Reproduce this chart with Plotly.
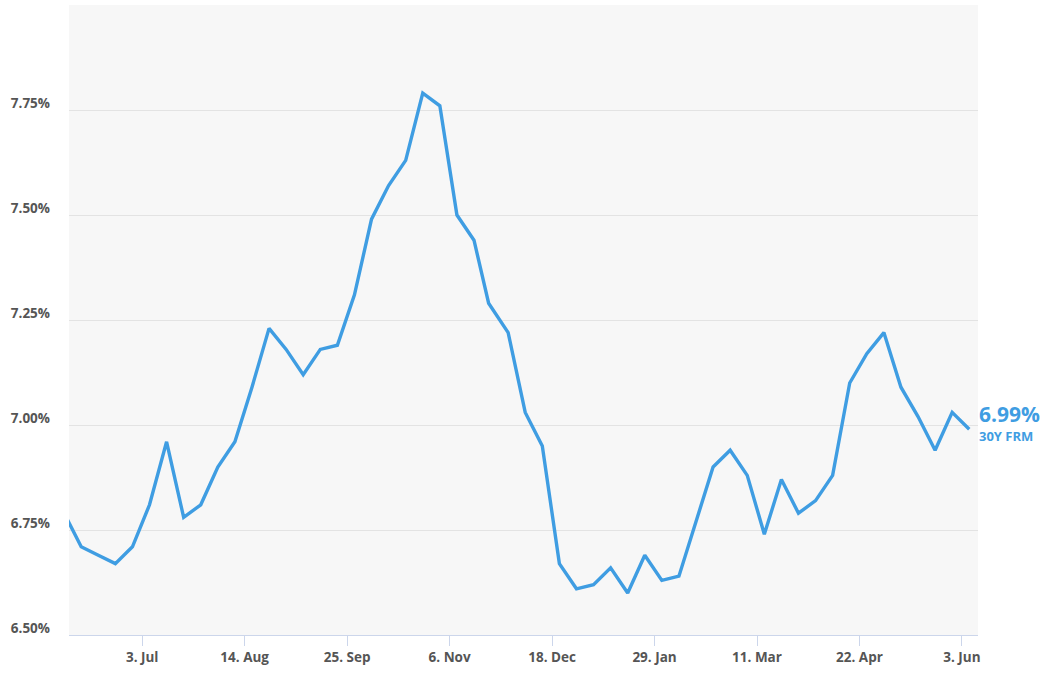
import plotly.graph_objects as go

dates = [
    "2023-06-01", "2023-06-08", "2023-06-15", "2023-06-22", "2023-06-29",
    "2023-07-06", "2023-07-13", "2023-07-20", "2023-07-27", "2023-08-03",
    "2023-08-10", "2023-08-17", "2023-08-24", "2023-08-31", "2023-09-07",
    "2023-09-14", "2023-09-21", "2023-09-28", "2023-10-05", "2023-10-12",
    "2023-10-19", "2023-10-26", "2023-11-02", "2023-11-09", "2023-11-16",
    "2023-11-22", "2023-11-30", "2023-12-07", "2023-12-14", "2023-12-21",
    "2023-12-28", "2024-01-04", "2024-01-11", "2024-01-18", "2024-01-25",
    "2024-02-01", "2024-02-08", "2024-02-15", "2024-02-22", "2024-02-29",
    "2024-03-07", "2024-03-14", "2024-03-21", "2024-03-28", "2024-04-04",
    "2024-04-11", "2024-04-18", "2024-04-25", "2024-05-02", "2024-05-09",
    "2024-05-16", "2024-05-23", "2024-05-30", "2024-06-06",
]
rate_30y = [
    6.79, 6.71, 6.69, 6.67, 6.71,
    6.81, 6.96, 6.78, 6.81, 6.90,
    6.96, 7.09, 7.23, 7.18, 7.12,
    7.18, 7.19, 7.31, 7.49, 7.57,
    7.63, 7.79, 7.76, 7.50, 7.44,
    7.29, 7.22, 7.03, 6.95, 6.67,
    6.61, 6.62, 6.66, 6.60, 6.69,
    6.63, 6.64, 6.77, 6.90, 6.94,
    6.88, 6.74, 6.87, 6.79, 6.82,
    6.88, 7.10, 7.17, 7.22, 7.09,
    7.02, 6.94, 7.03, 6.99,
]
tick_dates = ["2023-07-03", "2023-08-14", "2023-09-25", "2023-11-06", "2023-12-18",
              "2024-01-29", "2024-03-11", "2024-04-22", "2024-06-03"]
tick_labels = ["3. Jul", "14. Aug", "25. Sep", "6. Nov", "18. Dec",
               "29. Jan", "11. Mar", "22. Apr", "3. Jun"]
y_ticks = [6.50, 6.75, 7.00, 7.25, 7.50, 7.75, 8.00]
y_labels = ["6.50%", "6.75%", "7.00%", "7.25%", "7.50%", "7.75%", ""]
series_name = "30Y FRM"
last_label = "6.99%"

blue = "#3f9de2"
label_font = dict(family="Open Sans", size=13.5, color="#555555", weight=700)

fig = go.Figure()
fig.add_trace(go.Scatter(
    x=dates, y=rate_30y, mode="lines", name=series_name,
    line=dict(color=blue, width=3.4), hoverinfo="x+y",
))

fig.add_annotation(xref="paper", yref="y", x=1, y=rate_30y[-1], xanchor="left",
                   yanchor="middle", xshift=-1, yshift=15, showarrow=False,
                   text=last_label,
                   font=dict(family="Open Sans", size=21, color=blue, weight=700))
fig.add_annotation(xref="paper", yref="y", x=1, y=rate_30y[-1], xanchor="left",
                   yanchor="middle", xshift=-1, yshift=-7, showarrow=False,
                   text=series_name,
                   font=dict(family="Open Sans", size=13, color=blue, weight=700))

fig.update_layout(
    width=1049, height=678,
    margin=dict(l=69, r=71, t=5, b=43),
    paper_bgcolor="white", plot_bgcolor="#f7f7f7",
    showlegend=False,
    xaxis=dict(
        type="date", range=["2023-06-03", "2024-06-09 14:00"],
        tickvals=tick_dates, ticktext=tick_labels,
        tickfont=label_font, showgrid=False, zeroline=False,
        showline=True, linecolor="#ccd6eb", linewidth=1,
        ticks="outside", ticklen=10, tickcolor="#ccd6eb", tickwidth=1,
    ),
    yaxis=dict(
        range=[6.5, 8.0], tickvals=y_ticks, ticktext=y_labels,
        tickfont=label_font, showgrid=True, gridcolor="#e3e3e3", gridwidth=1,
        zeroline=False, showline=False, ticks="", ticklabelstandoff=18,
        ticklabelshift=-7,
    ),
)

fig.write_html("out.html", config={"displayModeBar": False},
               post_script="document.body.style.margin='0';")
